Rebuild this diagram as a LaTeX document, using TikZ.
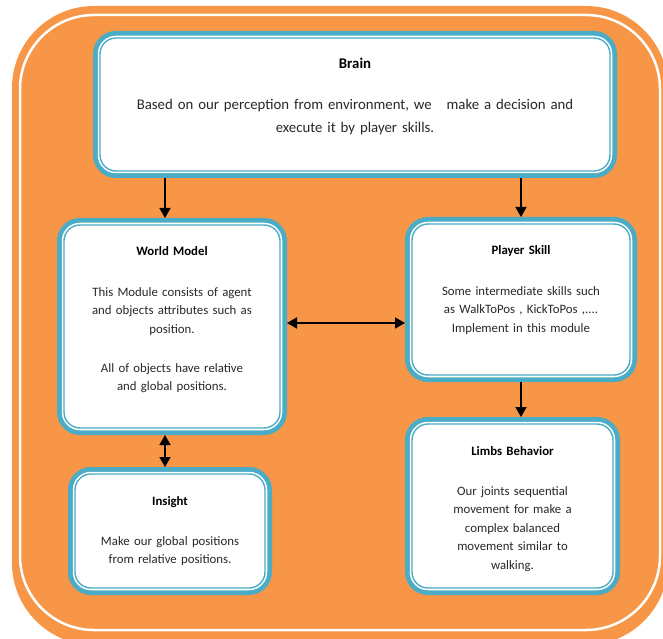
\documentclass[tikz,border=0pt]{standalone}
\usepackage{fontspec}
\setmainfont{Carlito}
\usetikzlibrary{arrows.meta}
\definecolor{frameOrange}{RGB}{247,150,70}
\definecolor{moduleBlue}{RGB}{75,172,198}
\definecolor{bodyGray}{RGB}{40,40,40}
\newcommand*{\heading}[1]{{\color{black}\bfseries #1}}
\newcommand*{\module}[7][]{% text style (optional), name, x, y, width, height, contents
    \node[modbox, minimum width=#5pt, minimum height=#6pt] (#2) at (#3,#4) {};
    \node[modtext, text width=#5pt, #1] (#2Text) at ([yshift=-38pt]#2.north) {#7};
}
\tikzset{
    modbox/.style={rectangle, rounded corners=16pt, fill=white, draw=moduleBlue, line width=1.4pt, outer sep=7pt,
        preaction={draw=moduleBlue, line width=14pt}, preaction={draw=white, line width=4.5pt}},
    modtext/.style={anchor=base, align=center, inner sep=0pt, text=bodyGray, font=\fontsize{12.8pt}{18.5pt}\selectfont},
    bigtext/.style={font=\fontsize{14.8pt}{18.5pt}\selectfont},
    arr/.style={line width=1.5pt, -{Triangle[width=11pt, length=10pt]}},
    arrBoth/.style={line width=1.5pt, {Triangle[width=11pt, length=10pt]}-{Triangle[width=11pt, length=10pt]}}
}

\begin{document}
\begin{tikzpicture}[x=1pt, y=1pt]
\useasboundingbox (0,0) rectangle (663,638);
\clip (0,0) rectangle (663,638);
% frame
\fill[frameOrange, rounded corners=82pt] (12,-7) rectangle (668,632);
\draw[white, line width=2.5pt, rounded corners=74pt] (20,8) rectangle (660,623);
% modules
\module[bigtext]{brain}{355}{533.5}{510}{133}{\heading{Brain}\\[22.5pt] Based on our perception from environment, we\ \ \ make a decision and\\[4.5pt] execute it by player skills.}
\module{wm}{172}{311.5}{216}{203}{\heading{World Model}\\[21.5pt] This Module consists of agent\\ and objects attributes such as\\ position.\\[20.5pt] All of objects have relative\\ and global positions.}
\module{ps}{521}{338.5}{218}{151}{\heading{Player Skill}\\[21.5pt] Some intermediate skills such\\ as WalkToPos , KickToPos ,....\\ Implement in this module}
\module{ins}{170}{107}{190}{114}{\heading{Insight}\\[21.5pt] Make our global positions\\ from relative positions.}
\module{limbs}{512.5}{132}{201}{164}{\heading{Limbs Behavior}\\[21.5pt] Our joints sequential\\ movement for make a\\ complex balanced\\ movement similar to\\ walking.}
% connectors
\coordinate (wmTop) at ([xshift=-7pt]wm.north);
\coordinate (wmBottom) at ([xshift=-7pt]wm.south);
\coordinate (wmRight) at ([yshift=3.5pt]wm.east);
\draw[arr] (wmTop |- brain.south) -- (wmTop);
\draw[arr] (ps.north |- brain.south) -- (ps.north);
\draw[arrBoth] (wmRight) -- (wmRight -| ps.west);
\draw[arrBoth] (wmBottom) -- (wmBottom |- ins.north);
\draw[arr] (ps.south) -- (ps.south |- limbs.north);
\end{tikzpicture}
\end{document}
